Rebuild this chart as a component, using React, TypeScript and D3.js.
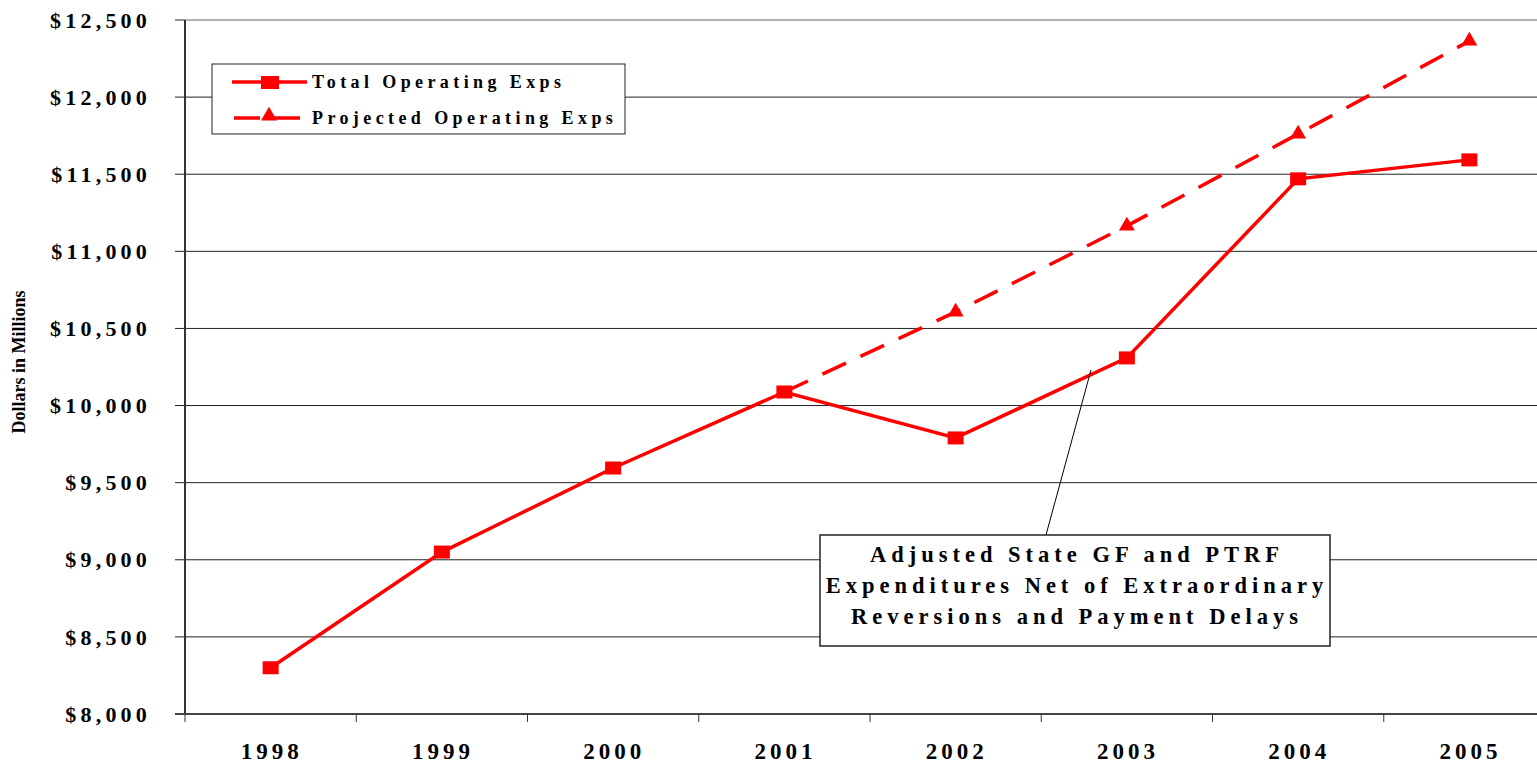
import React from "react";
import * as d3 from "d3";

const years = ["1998", "1999", "2000", "2001", "2002", "2003", "2004", "2005"];
const totalExps = [8300, 9050, 9595, 10088, 9790, 10309, 11470, 11593];
const projectedYears = ["2001", "2002", "2003", "2004", "2005"];
const projectedExps = [10088, 10607, 11165, 11761, 12364];
const yTicks = [8000, 8500, 9000, 9500, 10000, 10500, 11000, 11500, 12000, 12500];
const legendLabels = ["Total Operating Exps", "Projected Operating Exps"];
const noteLines = [
  "Adjusted State GF and PTRF",
  "Expenditures Net of Extraordinary",
  "Reversions and Payment Delays",
];

const width = 1537;
const height = 763;
const margin = { top: 20, right: -18, bottom: 49, left: 185 };
const font = "Liberation Serif, Times New Roman, serif";
const red = "#ff0000";

export default function App() {
  const x = d3
    .scaleBand()
    .domain(years)
    .range([margin.left, width - margin.right]);
  const y = d3
    .scaleLinear()
    .domain([8000, 12500])
    .range([height - margin.bottom, margin.top]);

  const cx = (yr: string) => (x(yr) as number) + x.bandwidth() / 2;

  const line = d3
    .line<[string, number]>()
    .x(d => cx(d[0]))
    .y(d => y(d[1]));

  const totalPts: [string, number][] = years.map((yr, i) => [yr, totalExps[i]]);
  const projPts: [string, number][] = projectedYears.map((yr, i) => [yr, projectedExps[i]]);

  const tri = d3.symbol().type(d3.symbolTriangle).size(110)();

  const x0 = margin.left;
  const yBase = y(8000);
  const txt = { fontFamily: font, fontWeight: 700 } as React.CSSProperties;

  return (
    <svg width={width} height={height} style={{ position: "absolute", left: 0, top: 0, background: "#fff" }}>
      {/* gridlines */}
      {yTicks.map(t => (
        <line
          key={"g" + t}
          x1={x0}
          x2={width}
          y1={y(t)}
          y2={y(t)}
          stroke={t === 12500 ? "#999" : "#222"}
          strokeWidth={t === 12500 ? 1.5 : 1}
        />
      ))}
      {/* y ticks + labels */}
      {yTicks.map(t => (
        <g key={"t" + t}>
          <line x1={x0 - 10} x2={x0} y1={y(t)} y2={y(t)} stroke="#222" strokeWidth={1} />
          <text
            x={151}
            y={y(t)}
            dy="0.35em"
            textAnchor="end"
            style={txt}
            fontSize={22}
            letterSpacing={4.2}
            fill="#000"
          >
            {d3.format("$,")(t)}
          </text>
        </g>
      ))}
      {/* axes */}
      <line x1={x0} x2={x0} y1={margin.top} y2={yBase} stroke="#333" strokeWidth={2} />
      <line x1={x0 - 10} x2={width} y1={yBase} y2={yBase} stroke="#444" strokeWidth={2} />
      {years.map(yr => (
        <g key={"x" + yr}>
          <line
            x1={x(yr) as number}
            x2={x(yr) as number}
            y1={yBase}
            y2={yBase + 8}
            stroke="#333"
            strokeWidth={1}
          />
          <text
            x={cx(yr) + 1}
            y={759}
            textAnchor="middle"
            style={txt}
            fontSize={23}
            letterSpacing={4}
            fill="#000"
          >
            {yr}
          </text>
        </g>
      ))}
      <text
        transform={`translate(25,${362}) rotate(-90)`}
        textAnchor="middle"
        style={txt}
        fontSize={18}
        fill="#000"
      >
        Dollars in Millions
      </text>

      {/* projected series */}
      <path d={line(projPts) as string} fill="none" stroke={red} strokeWidth={3.5} strokeDasharray="26,16" />
      {projPts.slice(1).map(d => (
        <path key={"p" + d[0]} d={tri as string} transform={`translate(${cx(d[0])},${y(d[1])})`} fill={red} />
      ))}

      {/* total series */}
      <path d={line(totalPts) as string} fill="none" stroke={red} strokeWidth={3.5} />
      {totalPts.map(d => (
        <rect key={"s" + d[0]} x={cx(d[0]) - 8} y={y(d[1]) - 6.5} width={16} height={13} fill={red} />
      ))}

      {/* legend */}
      <rect x={212} y={64} width={413} height={70} fill="#fff" stroke="#222" strokeWidth={1} />
      <line x1={232} x2={307} y1={82} y2={82} stroke={red} strokeWidth={3.5} />
      <rect x={261} y={76} width={18} height={13} fill={red} />
      <line x1={234} x2={306} y1={118} y2={118} stroke={red} strokeWidth={3.5} strokeDasharray="26,14" />
      <path d={tri as string} transform="translate(269,116)" fill={red} />
      {legendLabels.map((l, i) => (
        <text
          key={l}
          x={312}
          y={88 + i * 36}
          style={txt}
          fontSize={18}
          letterSpacing={4.4}
          fill="#000"
        >
          {l}
        </text>
      ))}

      {/* annotation */}
      <line x1={1091} x2={1046} y1={370} y2={535} stroke="#000" strokeWidth={1} />
      <rect x={820} y={535} width={510} height={111} fill="#fff" stroke="#222" strokeWidth={1.5} />
      {noteLines.map((l, i) => (
        <text
          key={l}
          x={1077}
          y={562 + i * 31}
          textAnchor="middle"
          style={txt}
          fontSize={22.5}
          letterSpacing={5}
          fill="#000"
        >
          {l}
        </text>
      ))}
    </svg>
  );
}
